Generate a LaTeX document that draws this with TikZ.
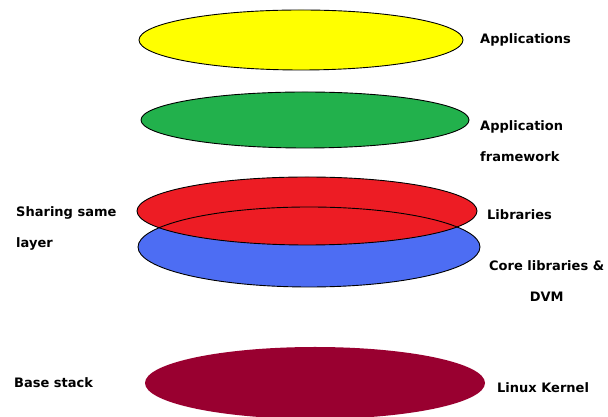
\documentclass[tikz,border=0pt]{standalone}
\usepackage{fontspec}
\setmainfont{DejaVu Sans}
\definecolor{yel}{HTML}{FFFF00}
\definecolor{grn}{HTML}{22B14C}
\definecolor{redl}{HTML}{ED1C24}
\definecolor{blu}{HTML}{4D6DF3}
\definecolor{mar}{HTML}{990030}
\begin{document}
\begin{tikzpicture}[x=1pt,y=1pt,
  layer/.style={draw=black,line width=0.9pt},
  lbl/.style={font=\bfseries\fontsize{13}{31}\selectfont,inner sep=0pt,anchor=west,align=left}]
\useasboundingbox (0,0) rectangle (608,417);
% yellow
\filldraw[layer,fill=yel] (301,377) ellipse [x radius=162,y radius=30];
% green
\filldraw[layer,fill=grn] (305,297) ellipse [x radius=164,y radius=28];
% blue and red
\fill[blu] (309,170) ellipse [x radius=171,y radius=40];
\fill[redl] (307,206) ellipse [x radius=170,y radius=34];
\draw[layer] (309,170) ellipse [x radius=171,y radius=40];
\draw[layer] (307,206) ellipse [x radius=170,y radius=34];
% maroon
\fill[mar] (315,34) ellipse [x radius=170,y radius=36];
% labels
\node[lbl] (apps) at (480,377) {Applications};
\node[lbl] (fw) at (480,275.5) {Application\\framework};
\node[lbl] (libs) at (487,202) {Libraries};
\node[lbl,align=center] (core) at (489,135.5) {Core libraries \&\\DVM};
\node[lbl] (share) at (16,188.5) {Sharing same\\layer};
\node[lbl] (base) at (14,34) {Base stack};
\node[lbl] (kern) at (497,29) {Linux Kernel};
\end{tikzpicture}
\end{document}
